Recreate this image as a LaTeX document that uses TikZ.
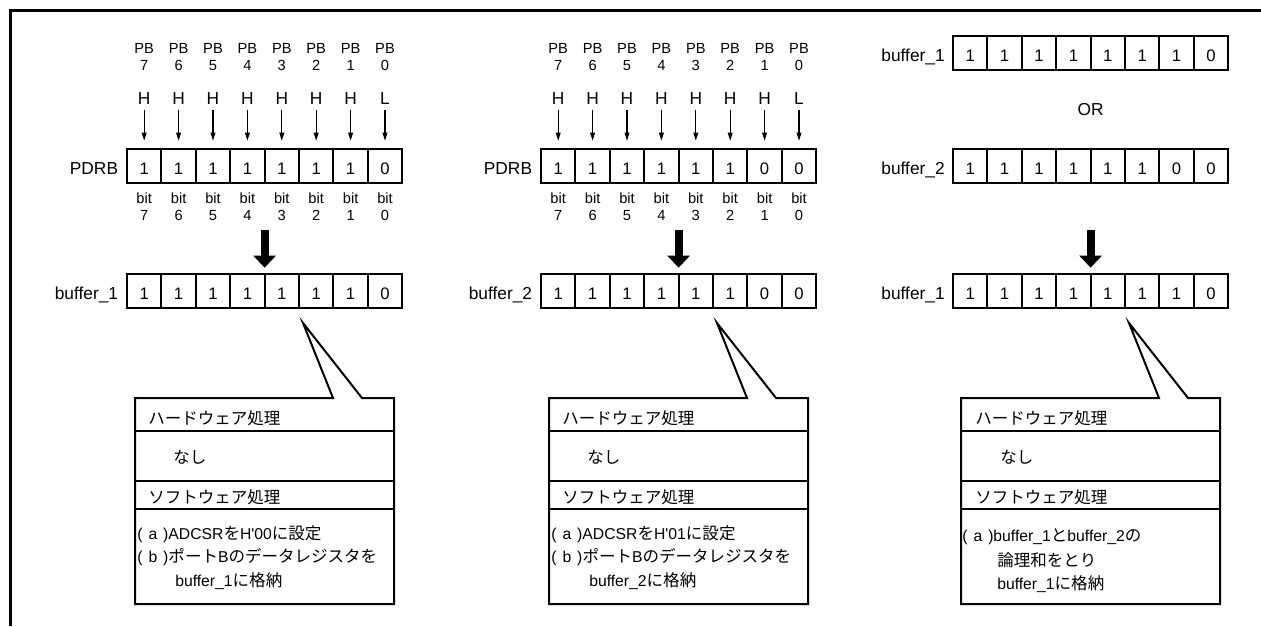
\documentclass[tikz,border=0pt]{standalone}
\usepackage{fontspec}
\setmainfont{Liberation Sans}[Ligatures=TeXOff]
\newfontfamily\jp{Noto Sans CJK JP}[Scale=1.05]
\usetikzlibrary{positioning,arrows.meta,calc}

\tikzset{
  cell/.style={draw, line width=1.4pt, minimum width=25.8pt, minimum height=26pt, inner sep=0pt, outer sep=0pt, font=\fontsize{12.5}{14}\selectfont, text height=13.4pt, text depth=0pt},
  reglabel/.style={inner sep=0pt, font=\fontsize{13}{15}\selectfont, text height=13.4pt, text depth=0pt},
  pinlabel/.style={align=center, inner sep=0pt, font=\fontsize{11}{12.75}\selectfont},
  level/.style={font=\fontsize{13}{15}\selectfont},
  pinarrow/.style={-{Triangle[length=6pt,width=3.6pt]}, line width=0.8pt, shorten >=6pt},
  bigarrow/.style={-{Triangle[length=9pt,width=16.5pt]}, line width=6pt, shorten <=35pt, shorten >=4.5pt},
  callout/.style={line width=1.5pt},
  note/.style={anchor=west, inner sep=0pt, font=\fontsize{11.8}{14}\selectfont},
}

\begin{document}
\begin{tikzpicture}[x=0.75pt, y=-0.75pt]
    \useasboundingbox (0,0) rectangle (1261,626);
    % Frame
    \draw[line width=2.25pt] (10,626) -- (10,10) -- (1261,10);

    % Panel 1: port B read into buffer_1
    \foreach \v/\h [count=\i, evaluate=\i as \b using int(8-\i)] in {1/H,1/H,1/H,1/H,1/H,1/H,1/H,0/L} {
        \node[pinlabel] (pbA\i) at ({127+(\i-0.5)*34.4},57) {PB\\\b};
        \node[level] (hA\i) at ({127+(\i-0.5)*34.4},99) {\h};
        \node[cell] (pdrbA\i) at ({127+(\i-0.5)*34.4},166) {\v};
        \node[pinlabel] (bitA\i) at ({127+(\i-0.5)*34.4},207) {bit\\\b};
        \node[cell] (bufA\i) at ({127+(\i-0.5)*34.4},291) {\v};
        \draw[pinarrow] (hA\i) -- (pdrbA\i);
    }
    \node[reglabel, left=6.5pt of pdrbA1] (pdrbAname) {PDRB};
    \node[reglabel, left=6.5pt of bufA1] (bufAname) {buffer\_1};
    \draw[bigarrow] (pdrbA4.south east) -- (bufA4.north east);

    % Panel 2: port B read into buffer_2
    \foreach \h/\v [count=\i, evaluate=\i as \b using int(8-\i)] in {H/1,H/1,H/1,H/1,H/1,H/1,H/0,L/0} {
        \node[pinlabel] (pbB\i) at ({541+(\i-0.5)*34.4},57) {PB\\\b};
        \node[level] (hB\i) at ({541+(\i-0.5)*34.4},99) {\h};
        \node[cell] (pdrbB\i) at ({541+(\i-0.5)*34.4},166) {\v};
        \node[pinlabel] (bitB\i) at ({541+(\i-0.5)*34.4},207) {bit\\\b};
        \node[cell] (bufB\i) at ({541+(\i-0.5)*34.4},291) {\v};
        \draw[pinarrow] (hB\i) -- (pdrbB\i);
    }
    \node[reglabel, left=6.5pt of pdrbB1] (pdrbBname) {PDRB};
    \node[reglabel, left=6.5pt of bufB1] (bufBname) {buffer\_2};
    \draw[bigarrow] (pdrbB4.south east) -- (bufB4.north east);

    % Panel 3: OR of both buffers
    \foreach \x/\y [count=\i] in {1/1,1/1,1/1,1/1,1/1,1/1,1/0,0/0} {
        \node[cell] (orX\i) at ({953+(\i-0.5)*34.4},53) {\x};
        \node[cell] (orY\i) at ({953+(\i-0.5)*34.4},166) {\y};
        \node[cell] (bufC\i) at ({953+(\i-0.5)*34.4},291) {\x};
    }
    \node[reglabel, left=6pt of orX1] (orXname) {buffer\_1};
    \node[reglabel, left=6pt of orY1] (orYname) {buffer\_2};
    \node[reglabel, left=6pt of bufC1] (bufCname) {buffer\_1};
    \node[level] (orop) at ($(orX4.south east)!0.5!(orY4.north east)$) {OR};
    \draw[bigarrow] (orY4.south east) -- (bufC4.north east);

    % Callout boxes
    \foreach \L in {127,541,953} {
        \draw[callout] ({\L+8},398) -- ({\L+206},398) -- ({\L+176},323) -- ({\L+235},398)
            -- ({\L+267},398) -- ({\L+267},604) -- ({\L+8},604) -- cycle;
        \draw[callout] ({\L+8},431) -- ({\L+267},431);
        \draw[callout] ({\L+8},481) -- ({\L+267},481);
        \draw[callout] ({\L+8},509) -- ({\L+267},509);
    }
    \node[note] (hwA) at (148,418) {\jp ハードウェア処理};
    \node[note] (noneA) at (173,457) {\jp なし};
    \node[note] (swA) at (148,497) {\jp ソフトウェア処理};
    \node[note] (stepAa) at (137,534) {(\hspace{4.5pt}a\hspace{4.5pt})ADCSR{\jp を}H'00{\jp に設定}};
    \node[note] (stepAb) at (137,557) {(\hspace{4.5pt}b\hspace{4.5pt}){\jp ポート}B{\jp のデータレジスタを}};
    \node[note] (stepAc) at (175,581) {buffer\_1{\jp に格納}};

    \node[note] (hwB) at (562,418) {\jp ハードウェア処理};
    \node[note] (noneB) at (587,457) {\jp なし};
    \node[note] (swB) at (562,497) {\jp ソフトウェア処理};
    \node[note] (stepBa) at (551,534) {(\hspace{4.5pt}a\hspace{4.5pt})ADCSR{\jp を}H'01{\jp に設定}};
    \node[note] (stepBb) at (551,557) {(\hspace{4.5pt}b\hspace{4.5pt}){\jp ポート}B{\jp のデータレジスタを}};
    \node[note] (stepBc) at (589,581) {buffer\_2{\jp に格納}};

    \node[note] (hwC) at (975,418) {\jp ハードウェア処理};
    \node[note] (noneC) at (1000,457) {\jp なし};
    \node[note] (swC) at (975,497) {\jp ソフトウェア処理};
    \node[note] (stepCa) at (962,537) {(\hspace{4.5pt}a\hspace{4.5pt})buffer\_1{\jp と}buffer\_2{\jp の}};
    \node[note] (stepCb) at (997,560) {\jp 論理和をとり};
    \node[note] (stepCc) at (997,584) {buffer\_1{\jp に格納}};
\end{tikzpicture}
\end{document}
